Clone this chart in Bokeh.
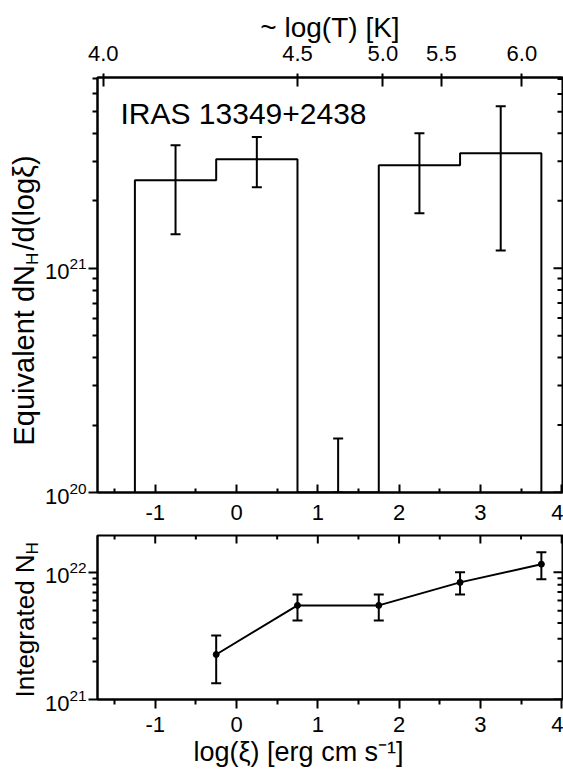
import math
from bokeh.plotting import figure
from bokeh.models import (Range1d, LinearAxis, FixedTicker, Label, Title,
                          Whisker, TeeHead, ColumnDataSource)
from bokeh.layouts import column
from bokeh.embed import file_html
from bokeh.resources import INLINE

# ---------------- data ----------------
bin_centers = [-0.75, 0.25, 1.25, 2.25, 3.25]
bin_values = [2.47e21, 3.07e21, 1.0e20, 2.88e21, 3.26e21]
bin_err_hi = [3.54e21, 3.85e21, 1.74e20, 4.0e21, 5.28e21]
bin_err_lo = [1.42e21, 2.30e21, 1.0e20, 1.76e21, 1.20e21]
bin_width = 1.0

int_x = [-0.25, 0.75, 1.75, 2.75, 3.75]
int_nh = [2.26e21, 5.5e21, 5.5e21, 8.34e21, 1.16e22]
int_hi = [3.19e21, 6.71e21, 6.71e21, 1.0e22, 1.44e22]
int_lo = [1.34e21, 4.19e21, 4.19e21, 6.71e21, 8.81e21]

logT_labels = ["4.0", "4.5", "5.0", "5.5", "6.0"]
logT_at_xi = [-1.64, 0.75, 1.80, 2.52, 3.51]

xi_ticks = [-1, 0, 1, 2, 3, 4]
xi_tick_labels = ["-1", "0", "1", "2", "3", "4"]
xi_minor = [-1.5, -0.5, 0.5, 1.5, 2.5, 3.5]

# ---------------- layout constants ----------------
FONT = "Liberation Sans"
W = 563
X_RANGE = (-1.71, 4.01)
Y1 = (1e20, 7.1e21)
Y2 = (1e21, 1.95e22)
L, R = 97, 562          # frame left/right (px)
T1, B1 = 77, 492        # frame top/bottom of upper panel (px in page)
H1 = 528
T2, B2 = 535, 699       # frame top/bottom of lower panel (px in page)
H2 = 778 - H1


def xi_at(px):
    return X_RANGE[0] + (px - L) / (R - L) * (X_RANGE[1] - X_RANGE[0])


def y1_at(py):
    a, b = math.log10(Y1[0]), math.log10(Y1[1])
    return 10 ** (b - (py - T1) / (B1 - T1) * (b - a))


def style_axis(ax, t_in, t_out, m_in, m_out, standoff=5, size="22px"):
    ax.axis_line_color = "black"
    ax.axis_line_width = 2
    ax.major_tick_line_color = "black"
    ax.major_tick_line_width = 2
    ax.minor_tick_line_color = "black"
    ax.minor_tick_line_width = 2
    ax.major_tick_in = t_in
    ax.major_tick_out = t_out
    ax.minor_tick_in = m_in
    ax.minor_tick_out = m_out
    ax.major_label_text_font = FONT
    ax.major_label_text_color = "black"
    ax.major_label_text_font_size = size
    ax.major_label_standoff = standoff
    ax.axis_label_text_font = FONT
    ax.axis_label_text_font_style = "normal"
    ax.axis_label_text_color = "black"
    ax.axis_label_text_font_size = "28px"


def log_minors(lo_exp, hi_exp):
    return [m * 10.0 ** e for e in range(lo_exp, hi_exp) for m in range(2, 10)]


def in_range(vals, rng):
    return [v for v in vals if rng[0] <= v <= rng[1]]


def base_fig(height, yr, top, bottom):
    p = figure(width=W, height=height, x_range=Range1d(*X_RANGE),
               y_range=Range1d(*yr), y_axis_type="log",
               output_backend="svg", toolbar_location=None,
               min_border_left=L, min_border_right=W - R,
               min_border_top=top, min_border_bottom=bottom)
    p.xgrid.visible = False
    p.ygrid.visible = False
    p.outline_line_color = "black"
    p.outline_line_width = 2
    p.background_fill_color = "white"
    p.border_fill_color = "white"
    return p


def right_ticks(p, yr, ticks, length_px):
    t = in_range(ticks, yr)
    dx = (X_RANGE[1] - X_RANGE[0]) * length_px / (R - L)
    p.segment(x0=[X_RANGE[1]] * len(t), y0=t, x1=[X_RANGE[1] - dx] * len(t), y1=t,
              line_color="black", line_width=2)


def top_ticks(p, yr, ticks, length_px, frame_h):
    t = in_range(ticks, X_RANGE)
    f = 10 ** (length_px / frame_h * math.log10(yr[1] / yr[0]))
    p.segment(x0=t, y0=[yr[1]] * len(t), x1=t, y1=[yr[1] / f] * len(t),
              line_color="black", line_width=2)


def side_title(text, size, offset, standoff):
    return Title(text=text, align="left", offset=offset, standoff=standoff,
                 text_font=FONT, text_font_size=size, text_font_style="normal",
                 text_color="black")


def add_y_title(p, main, sub, start_py, frame_bottom_py, main_em, size_px):
    # main text (with a gap for the subscript) in the outer slot, subscript in the inner slot
    join_py = start_py - main_em * size_px
    p.add_layout(side_title(sub, "17px", frame_bottom_py - join_py, 0), "left")
    p.add_layout(side_title(main, "%dpx" % size_px, frame_bottom_py - start_py, -38), "left")


xi_overrides = {v: s for v, s in zip(xi_ticks, xi_tick_labels)}

# ---------------- upper panel ----------------
p1 = base_fig(H1, Y1, T1, H1 - B1)
bx1 = p1.below[0]
ly1 = p1.left[0]
bx1.ticker = FixedTicker(ticks=xi_ticks, minor_ticks=xi_minor)
bx1.major_label_overrides = xi_overrides
style_axis(bx1, 8, 0, 4, 0, standoff=12)
ly1.ticker = FixedTicker(ticks=[1e20, 1e21, 1e22], minor_ticks=log_minors(20, 22))
style_axis(ly1, 0, 9, 0, 5, standoff=2)

tax = LinearAxis(ticker=FixedTicker(ticks=logT_at_xi, minor_ticks=[]),
                 major_label_overrides={v: s for v, s in zip(logT_at_xi, logT_labels)},
                 axis_label="~ log(T) [K]")
style_axis(tax, 9, 4, 0, 0, standoff=13)
tax.axis_label_standoff = 0
p1.add_layout(tax, "above")

right_ticks(p1, Y1, [1e20, 1e21, 1e22], 9)
right_ticks(p1, Y1, log_minors(20, 22), 5)

edges = [c - bin_width / 2 for c in bin_centers] + [bin_centers[-1] + bin_width / 2]
hx, hy = [edges[0]], [Y1[0]]
for i, v in enumerate(bin_values):
    hx += [edges[i], edges[i + 1]]
    hy += [v, v]
hx.append(edges[-1])
hy.append(Y1[0])
p1.line(hx, hy, line_color="black", line_width=2)

src1 = ColumnDataSource(dict(x=bin_centers, lo=bin_err_lo, hi=bin_err_hi))
p1.add_layout(Whisker(source=src1, base="x", upper="hi", lower="lo", dimension="height",
                      line_color="black", line_width=2,
                      upper_head=TeeHead(size=10, line_width=2, line_color="black"),
                      lower_head=TeeHead(size=10, line_width=2, line_color="black")))

p1.add_layout(Label(x=xi_at(120), y=y1_at(113), text="IRAS 13349+2438",
                    text_font=FONT, text_font_size="30px", text_align="left",
                    text_baseline="alphabetic", text_color="black"))

# "Equivalent dN" = 6.225 em in Liberation Sans
add_y_title(p1, "Equivalent dN\u2002/d(logξ)", "H", 445, B1, 6.225, 29)

# ---------------- lower panel ----------------
p2 = base_fig(H2, Y2, T2 - H1, H1 + H2 - B2)
p2.x_range = p1.x_range
bx2 = p2.below[0]
ly2 = p2.left[0]
bx2.ticker = FixedTicker(ticks=xi_ticks, minor_ticks=xi_minor)
bx2.major_label_overrides = xi_overrides
style_axis(bx2, 0, 9, 0, 5, standoff=8)
ly2.ticker = FixedTicker(ticks=[1e21, 1e22], minor_ticks=log_minors(21, 22))
style_axis(ly2, 0, 9, 0, 5, standoff=2)

right_ticks(p2, Y2, [1e21, 1e22], 9)
right_ticks(p2, Y2, log_minors(21, 22), 5)
top_ticks(p2, Y2, xi_ticks, 8, B2 - T2)
top_ticks(p2, Y2, xi_minor, 4, B2 - T2)

p2.line(int_x, int_nh, line_color="black", line_width=2)
p2.scatter(int_x, int_nh, size=6, color="black")
src2 = ColumnDataSource(dict(x=int_x, lo=int_lo, hi=int_hi))
p2.add_layout(Whisker(source=src2, base="x", upper="hi", lower="lo", dimension="height",
                      line_color="black", line_width=2,
                      upper_head=TeeHead(size=10, line_width=2, line_color="black"),
                      lower_head=TeeHead(size=10, line_width=2, line_color="black")))

# "Integrated N" = 5.503 em in Liberation Sans
add_y_title(p2, "Integrated N", "H", 697, B2, 5.503, 26)

# x title (title panel below the axis)
p2.add_layout(Title(text="log(ξ) [erg cm s⁻¹]", align="left", offset=96,
                    text_font=FONT, text_font_size="27px", text_font_style="normal",
                    text_color="black", standoff=0), "below")

layout = column(p1, p2, spacing=0)
open("out.html", "w").write(file_html(layout, INLINE))
